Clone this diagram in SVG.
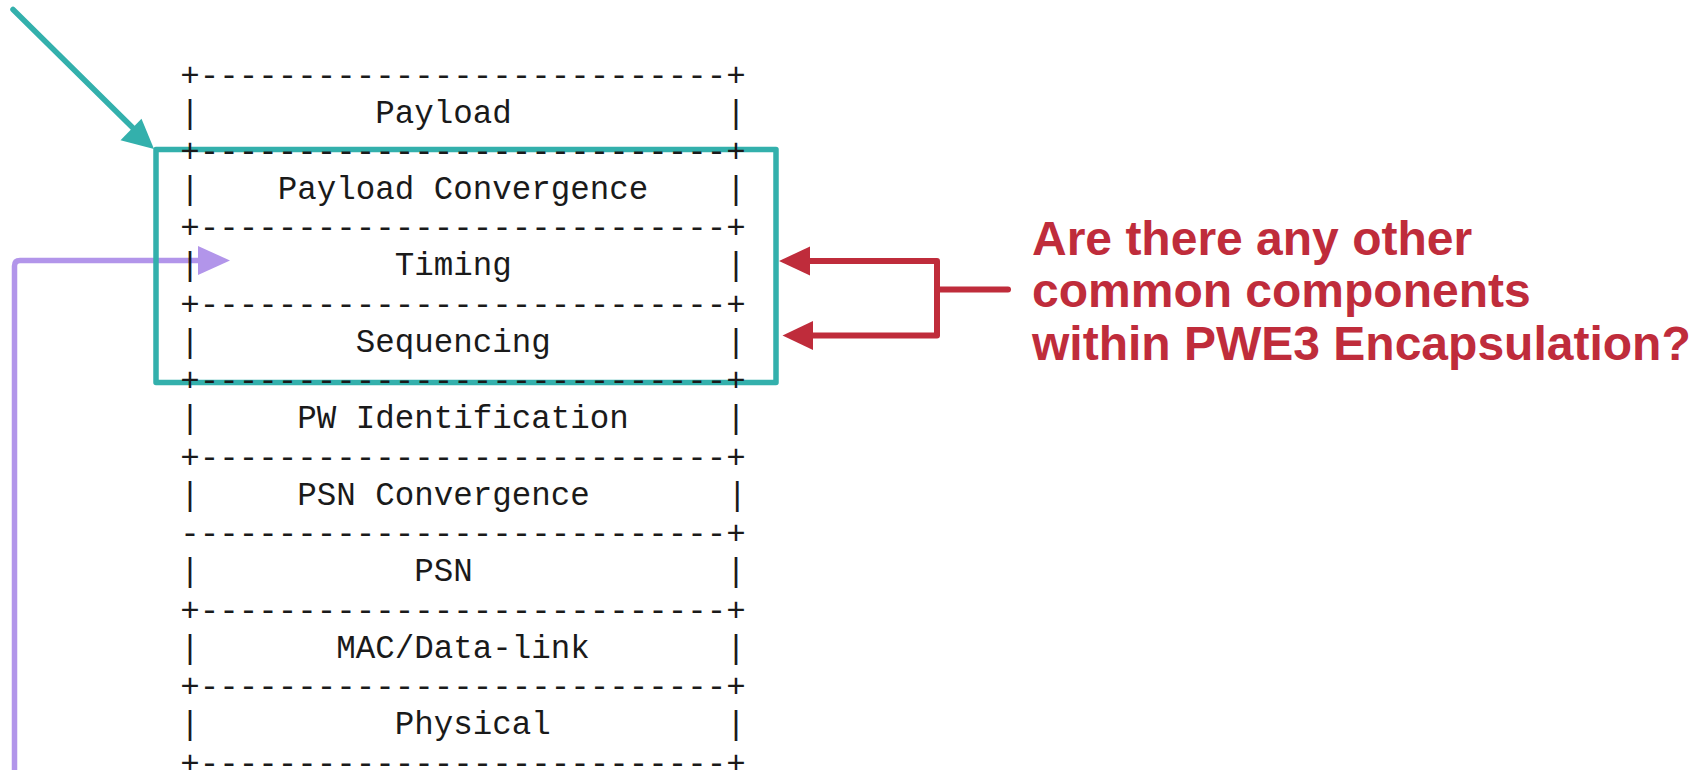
<svg xmlns="http://www.w3.org/2000/svg" width="1699" height="770" viewBox="0 0 1699 770">
  <style>
    .mono { font-family: "Liberation Mono", "Courier New", monospace; font-size: 32.5px; fill: #1a1a1a; }
    .ask { font-family: "Liberation Sans", Arial, sans-serif; font-weight: bold; font-size: 48px; fill: #bf2c3b; }
    .teal { stroke: #33b0ac; fill: none; stroke-width: 5.5; stroke-linecap: round; stroke-linejoin: round; }
    .purple { stroke: #b295ea; fill: none; stroke-width: 5.5; stroke-linejoin: round; }
    .red { stroke: #bf2c3b; fill: none; stroke-width: 6; stroke-linecap: round; stroke-linejoin: round; }
  </style>
  <rect width="1699" height="770" fill="#ffffff"/>

  <!-- connectors -->
  <g id="connectors">
    <!-- pointer into the encapsulation box from the top-left -->
    <g id="teal-pointer">
      <line class="teal" x1="13" y1="9.5" x2="133" y2="128"/>
      <polygon points="154,149 120.5,140.2 141.5,118.8" fill="#33b0ac"/>
    </g>
    <!-- elbow arrow from the left margin into the Timing row -->
    <g id="timing-pointer">
      <path class="purple" d="M14.5,770 V266 Q14.5,260.5 20,260.5 H200"/>
      <polygon points="198,246 230,260.5 198,275" fill="#b295ea"/>
    </g>
    <!-- bracket arrows from the question back to the box -->
    <g id="question-bracket">
      <path class="red" d="M810,261 H937 V335.5 H813"/>
      <line class="red" x1="937" y1="289.5" x2="1008" y2="289.5"/>
      <polygon points="779,261 810,246.5 810,275.5" fill="#bf2c3b"/>
      <polygon points="782.5,335.5 813,321 813,350" fill="#bf2c3b"/>
    </g>
  </g>

  <!-- box around the common encapsulation components -->
  <g id="encapsulation-box">
    <rect class="teal" x="156" y="149.5" width="620" height="233"/>
  </g>

  <!-- protocol stack drawn as monospace text: column c starts at 180.2 + 19.5c -->
  <g id="stack" class="mono">
    <g id="stack-rules">
      <text x="180.2" y="85.5">+---------------------------+</text>
      <text x="180.2" y="161.9">+---------------------------+</text>
      <text x="180.2" y="238.4">+---------------------------+</text>
      <text x="180.2" y="314.8">+---------------------------+</text>
      <text x="180.2" y="391.3">+---------------------------+</text>
      <text x="180.2" y="467.7">+---------------------------+</text>
      <text x="180.2" y="544.1">----------------------------+</text>
      <text x="180.2" y="620.6">+---------------------------+</text>
      <text x="180.2" y="697.0">+---------------------------+</text>
      <text x="180.2" y="773.5">+---------------------------+</text>
    </g>
    <g id="layer-payload">
      <text x="180.2" y="122.5">|</text><text x="375.2" y="122.5">Payload</text><text x="726.2" y="122.5">|</text>
    </g>
    <g id="layer-payload-convergence">
      <text x="180.2" y="198.9">|</text><text x="277.7" y="198.9">Payload Convergence</text><text x="726.2" y="198.9">|</text>
    </g>
    <g id="layer-timing">
      <text x="180.2" y="275.4">|</text><text x="394.7" y="275.4">Timing</text><text x="726.2" y="275.4">|</text>
    </g>
    <g id="layer-sequencing">
      <text x="180.2" y="351.8">|</text><text x="355.7" y="351.8">Sequencing</text><text x="726.2" y="351.8">|</text>
    </g>
    <g id="layer-pw-identification">
      <text x="180.2" y="428.3">|</text><text x="297.2" y="428.3">PW Identification</text><text x="726.2" y="428.3">|</text>
    </g>
    <g id="layer-psn-convergence">
      <text x="180.2" y="504.7">|</text><text x="297.2" y="504.7">PSN Convergence</text><text x="727.5" y="504.7">|</text>
    </g>
    <g id="layer-psn">
      <text x="180.2" y="581.2">|</text><text x="414.2" y="581.2">PSN</text><text x="726.2" y="581.2">|</text>
    </g>
    <g id="layer-mac">
      <text x="180.2" y="657.6">|</text><text x="336.2" y="657.6">MAC/Data-link</text><text x="726.2" y="657.6">|</text>
    </g>
    <g id="layer-physical">
      <text x="180.2" y="734.0">|</text><text x="394.7" y="734.0">Physical</text><text x="726.2" y="734.0">|</text>
    </g>
  </g>

  <!-- question label -->
  <g id="question">
    <text class="ask" x="1032" y="254.6">Are there any other</text>
    <text class="ask" x="1032" y="307.2">common components</text>
    <text class="ask" x="1032" y="359.8">within PWE3 Encapsulation?</text>
  </g>
</svg>
